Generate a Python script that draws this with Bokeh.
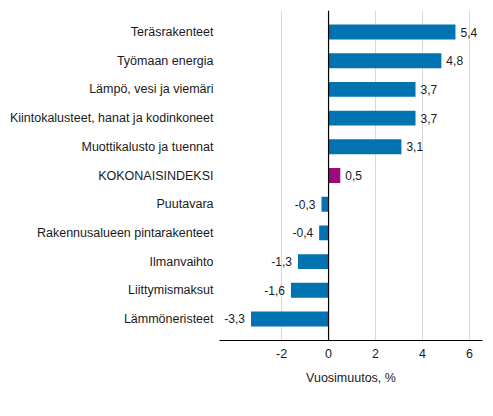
from bokeh.plotting import figure
from bokeh.models import ColumnDataSource, FactorRange, FixedTicker, Span, Label
from bokeh.core.properties import value
from bokeh.embed import file_html
from bokeh.resources import INLINE

# Data, top to bottom as in the chart
categories = ["Teräsrakenteet", "Työmaan energia", "Lämpö, vesi ja viemäri",
              "Kiintokalusteet, hanat ja kodinkoneet", "Muottikalusto ja tuennat",
              "KOKONAISINDEKSI", "Puutavara", "Rakennusalueen pintarakenteet",
              "Ilmanvaihto", "Liittymismaksut", "Lämmöneristeet"]
values = [5.4, 4.8, 3.7, 3.7, 3.1, 0.5, -0.3, -0.4, -1.3, -1.6, -3.3]
x_ticks = [-2, 0, 2, 4, 6]

BLUE = "#0073b0"
MAGENTA = "#9c0a7d"
FONT = "Liberation Sans"
TXT = "#1a1a1a"

colors = [MAGENTA if c == "KOKONAISINDEKSI" else BLUE for c in categories]
labels = [("%.1f" % v).replace(".", ",") for v in values]
pos = [v >= 0 for v in values]

src_pos = ColumnDataSource(dict(
    y=[c for c, p in zip(categories, pos) if p],
    x=[v for v, p in zip(values, pos) if p],
    t=[t for t, p in zip(labels, pos) if p]))
src_neg = ColumnDataSource(dict(
    y=[c for c, p in zip(categories, pos) if not p],
    x=[v for v, p in zip(values, pos) if not p],
    t=[t for t, p in zip(labels, pos) if not p]))
src = ColumnDataSource(dict(y=categories, right=values, color=colors))

yr = FactorRange(factors=categories[::-1], range_padding=0.25,
                 range_padding_units="absolute")

p = figure(width=490, height=412, y_range=yr, x_range=(-4.64, 6.55),
           output_backend="svg", toolbar_location=None,
           min_border_left=219, min_border_right=8,
           min_border_top=10, min_border_bottom=72)
p.outline_line_color = None

p.hbar(y="y", left=0, right="right", height=0.52, color="color",
       line_color=None, source=src)

p.text(x="x", y="y", text="t", source=src_pos, x_offset=5,
       text_align="left", text_baseline="middle", text_font=value(FONT),
       text_font_size="12px", text_color=TXT)
p.text(x="x", y="y", text="t", source=src_neg, x_offset=-6,
       text_align="right", text_baseline="middle", text_font=value(FONT),
       text_font_size="12px", text_color=TXT)

p.add_layout(Span(location=0, dimension="height", line_color="black",
                  line_width=1.2))

# grid
p.ygrid.grid_line_color = None
p.xgrid.ticker = FixedTicker(ticks=x_ticks)
p.xgrid.grid_line_color = "#d9d9d9"
p.xgrid.grid_line_width = 1

# x axis
p.xaxis.ticker = FixedTicker(ticks=x_ticks)
p.xaxis.major_label_overrides = {t: str(t) for t in x_ticks}
p.xaxis.axis_label = "Vuosimuutos, %"
p.xaxis.axis_label_text_font = FONT
p.xaxis.axis_label_text_font_style = "normal"
p.xaxis.axis_label_text_font_size = "12.5px"
p.xaxis.axis_label_text_color = TXT
p.xaxis.axis_label_standoff = 10
p.xaxis.major_label_text_font = FONT
p.xaxis.major_label_text_font_size = "12.5px"
p.xaxis.major_label_text_color = TXT
p.xaxis.major_label_standoff = 8
p.xaxis.major_tick_in = 0
p.xaxis.major_tick_out = 0
p.xaxis.minor_tick_line_color = None
p.xaxis.axis_line_color = "black"
p.xaxis.axis_line_width = 1.2

# y axis with category names
p.yaxis.axis_line_color = None
p.yaxis.major_tick_line_color = None
p.yaxis.minor_tick_line_color = None
p.yaxis.major_label_standoff = 0
p.yaxis.major_label_text_font = FONT
p.yaxis.major_label_text_font_size = "12.5px"
p.yaxis.major_label_text_color = TXT

# source note
p.add_layout(Label(x=13, y=399, x_units="canvas", y_units="canvas",
                   text="Lähde: Tilastokeskus", text_font=FONT,
                   text_font_size="12.5px", text_color=TXT,
                   text_baseline="middle"))

open("out.html", "w").write(file_html(p, INLINE))
